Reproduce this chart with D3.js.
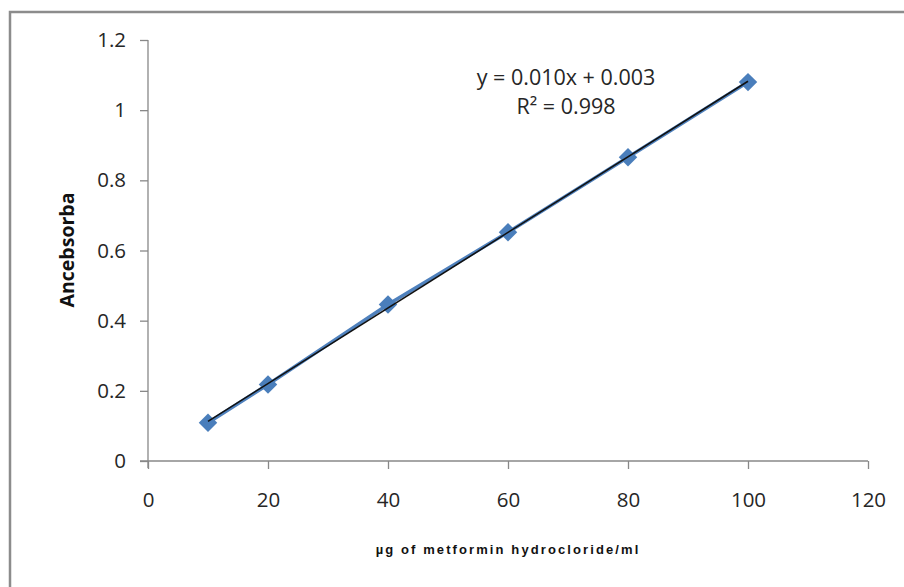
<!DOCTYPE html>
<html>
<head>
<meta charset="UTF-8">
<title></title>
<script src="https://cdn.jsdelivr.net/npm/d3@7"></script>
<style>
	body { margin: 0; background: #fff; }
	text { font-family: "Open Sans", "Noto Sans", sans-serif; fill: #262626; }
</style>
</head>
<body>
<script>
	// concentration (µg/ml) and absorbance
	var conc = [10, 20, 40, 60, 80, 100];
	var absorb = [0.109, 0.218, 0.446, 0.652, 0.866, 1.080];
	var xTicks = [0, 20, 40, 60, 80, 100, 120];
	var yTicks = [0, 0.2, 0.4, 0.6, 0.8, 1, 1.2];
	var eqLines = ["y = 0.010x + 0.003", "R² = 0.998"];

	var width = 904, height = 587;
	var svg = d3.select("body").append("svg")
		.attr("width", width)
		.attr("height", height);

	// outer frame
	svg.append("rect")
		.attr("x", 10).attr("y", 12)
		.attr("width", 920).attr("height", 600)
		.attr("fill", "none")
		.attr("stroke", "#8c8c8c")
		.attr("stroke-width", 2.5);

	var x = d3.scaleLinear().domain([0, 120]).range([148, 868]);
	var y = d3.scaleLinear().domain([0, 1.2]).range([461, 40]);

	// y axis
	var gy = svg.append("g").attr("transform", "translate(148,0)")
		.call(d3.axisLeft(y).tickValues(yTicks).tickSize(8).tickPadding(14)
			.tickFormat(function(d){ return d3.format("")(+d.toFixed(1)); }));
	gy.select(".domain").remove();
	gy.append("line").attr("x1", 0).attr("x2", 0).attr("y1", 40).attr("y2", 468)
		.attr("stroke", "#888").attr("stroke-width", 1.3);
	gy.selectAll(".tick line").attr("stroke", "#888").attr("stroke-width", 1.3);
	gy.selectAll(".tick text").attr("font-size", "20.5px").attr("fill", "#262626")
		.attr("font-family", "Open Sans, sans-serif");

	// x axis
	var gx = svg.append("g").attr("transform", "translate(0,461)")
		.call(d3.axisBottom(x).tickValues(xTicks).tickSize(8).tickPadding(23));
	gx.select(".domain").remove();
	gx.append("line").attr("x1", 140).attr("x2", 868).attr("y1", 0).attr("y2", 0)
		.attr("stroke", "#888").attr("stroke-width", 1.3);
	gx.selectAll(".tick line").attr("stroke", "#888").attr("stroke-width", 1.3);
	gx.selectAll(".tick text").attr("font-size", "20.5px").attr("fill", "#262626")
		.attr("font-family", "Open Sans, sans-serif");

	// data series line
	var pts = conc.map(function(c, i){ return [c, absorb[i]]; });
	var line = d3.line().x(function(d){ return x(d[0]); }).y(function(d){ return y(d[1]); });
	svg.append("path").datum(pts)
		.attr("d", line)
		.attr("fill", "none")
		.attr("stroke", "#4f81bd")
		.attr("stroke-width", 3.5);

	// markers
	svg.selectAll("path.pt").data(pts).enter().append("path")
		.attr("class", "pt")
		.attr("d", d3.symbol(d3.symbolSquare, 170)())
		.attr("transform", function(d){ return "translate(" + x(d[0]) + "," + y(d[1]) + ") rotate(45)"; })
		.attr("fill", "#4a7ebb");

	// linear trendline (least squares over the points)
	var mx = d3.mean(conc), my = d3.mean(absorb);
	var slope = d3.sum(pts, function(d){ return (d[0]-mx)*(d[1]-my); }) /
		d3.sum(conc, function(c){ return (c-mx)*(c-mx); });
	var icpt = my - slope * mx;
	var trend = [[10, icpt + slope*10], [100, icpt + slope*100]];
	svg.append("path").datum(trend)
		.attr("d", line)
		.attr("fill", "none")
		.attr("stroke", "#111")
		.attr("stroke-width", 1.6);

	// equation
	svg.selectAll("text.eq").data(eqLines).enter().append("text")
		.attr("class", "eq")
		.attr("x", 566)
		.attr("y", function(d, i){ return 85 + i * 29; })
		.attr("text-anchor", "middle")
		.attr("font-size", "21.5px")
		.text(function(d){ return d; });

	// axis titles
	svg.append("text")
		.attr("transform", "translate(74,250) rotate(-90)")
		.attr("text-anchor", "middle")
		.attr("font-size", "19.5px")
		.attr("font-weight", "bold")
		.style("fill", "#111")
		.text("Ancebsorba");

	svg.append("text")
		.attr("x", 508).attr("y", 554)
		.attr("text-anchor", "middle")
		.attr("font-size", "13px")
		.attr("font-weight", "bold")
		.attr("letter-spacing", "2.1px")
		.style("font-family", "Liberation Sans, Arial, sans-serif")
		.style("fill", "#111")
		.text("µg of metformin hydrocloride/ml");
</script>
</body>
</html>
